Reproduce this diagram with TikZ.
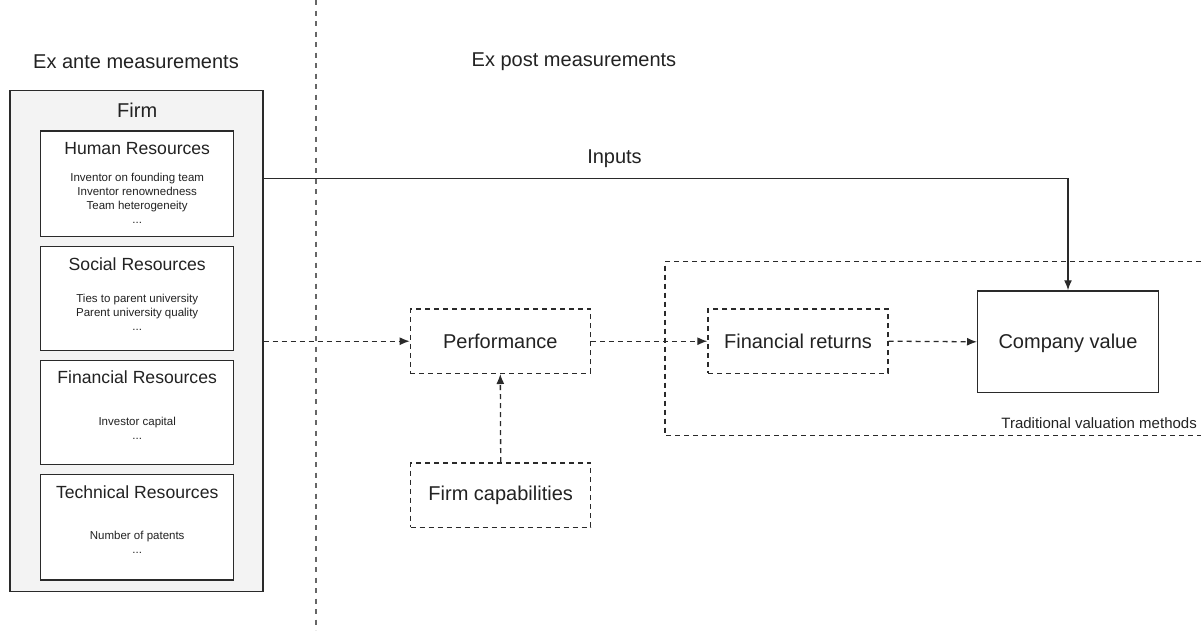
\documentclass[tikz,border=0pt]{standalone}
\usepackage{fontspec}
\setmainfont{Liberation Sans}
\usetikzlibrary{arrows.meta}
\definecolor{txt}{HTML}{222222}
\definecolor{edge}{HTML}{2A2A2A}
\definecolor{firmfill}{HTML}{F3F3F3}
\tikzset{
  x=1pt,y=-1pt,
  bigtext/.style={font=\fontsize{20}{24}\selectfont,text=txt,inner sep=0pt},
  subtext/.style={font=\fontsize{17.6}{21}\selectfont,text=txt,inner sep=0pt},
  smalltext/.style={font=\fontsize{11.5}{14}\selectfont,text=txt,inner sep=0pt,align=center},
  tradtext/.style={font=\fontsize{15}{18}\selectfont,text=txt,inner sep=0pt},
  solidbox/.style={draw=edge,line width=1.4pt,fill=white,minimum width=#1,inner sep=0pt},
  dashbox/.style={draw=edge,line width=1.3pt,dash pattern=on 5pt off 4pt,minimum width=180pt,minimum height=64.3pt,inner sep=0pt},
  dashline/.style={draw=edge,line width=1.3pt,dash pattern=on 5pt off 4pt},
  tip/.style={-{Latex[length=10pt,width=8pt]}},
}
\begin{document}
\begin{tikzpicture}
\useasboundingbox (0,0) rectangle (1201,630);
% divider
\coordinate (divtop) at (316,0);
\coordinate (divbot) at (316,630);
\draw[draw=black!60,line width=1.3pt,dash pattern=on 5pt off 5.5pt] (divtop) -- (divbot);
% headings
\node[bigtext] (exante) at (136,61.7) {Ex ante measurements};
\node[bigtext] (expost) at (574,61.7) {Ex post measurements};
% firm
\node[draw=edge,line width=1.4pt,fill=firmfill,minimum width=253pt,minimum height=501pt,inner sep=0pt] (firm) at (136.5,341.2) {};
\node[bigtext] (firmT) at (137.2,110) {Firm};
% resource boxes
\node[solidbox=193pt,minimum height=105.7pt] (hr) at (137.2,183.85) {};
\node[subtext] (hrT) at (137.2,149) {Human Resources};
\node[smalltext] (hrI) at (137.2,198.5) {Inventor on founding team\\Inventor renownedness\\Team heterogeneity\\...};
\node[solidbox=193pt,minimum height=104pt] (soc) at (137.2,298.7) {};
\node[subtext] (socT) at (137.2,264) {Social Resources};
\node[smalltext] (socI) at (137.2,312.8) {Ties to parent university\\Parent university quality\\...};
\node[solidbox=193pt,minimum height=103.6pt] (fin) at (137.2,412.5) {};
\node[subtext] (finT) at (137.2,377) {Financial Resources};
\node[smalltext] (finI) at (137.2,428) {Investor capital\\...};
\node[solidbox=193pt,minimum height=105.7pt] (tech) at (137.2,527.15) {};
\node[subtext] (techT) at (137.2,491.7) {Technical Resources};
\node[smalltext] (techI) at (137.2,542) {Number of patents\\...};
% traditional valuation frame
\coordinate (trTR) at (1210,261.7);
\coordinate (trTL) at (665,261.7);
\coordinate (trBL) at (665,435.7);
\coordinate (trBR) at (1210,435.7);
\draw[dashline] (trTR) -- (trTL) -- (trBL) -- (trBR);
\node[tradtext,anchor=east] (trad) at (1197,422.7) {Traditional valuation methods};
% ex post nodes
\node[dashbox,bigtext] (perf) at (500.3,341.2) {Performance};
\node[dashbox,bigtext] (fr) at (798,341.2) {Financial returns};
\node[dashbox,bigtext] (fc) at (500.7,495) {Firm capabilities};
\node[solidbox=180.6pt,minimum height=101.7pt,bigtext,text depth=1pt] (cv) at (1068,341.8) {Company value};
% connectors
\coordinate (yin) at (0,178.3);
\draw[draw=edge,line width=1.4pt,tip] (firm.east |- yin) -| (cv.north);
\node[bigtext] (inputs) at (614.5,158.3) {Inputs};
\draw[dashline,tip] (firm.east |- perf.west) -- (perf.west);
\draw[dashline,tip] (perf.east) -- (fr.west);
\draw[dashline,tip] (fr.east) -- (cv.west);
\draw[dashline,tip] (fc.north) -- (perf.south);
\end{tikzpicture}
\end{document}
